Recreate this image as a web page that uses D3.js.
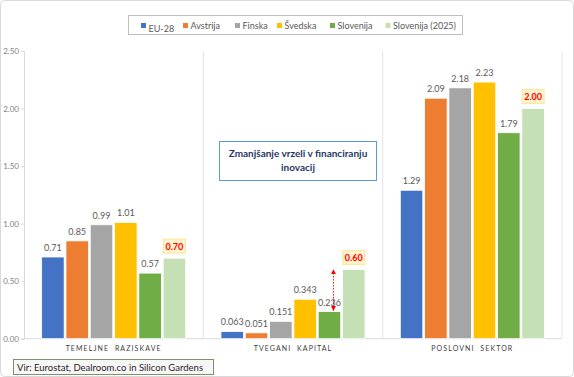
<!DOCTYPE html>
<html><head><meta charset="utf-8">
<script src="https://cdn.jsdelivr.net/npm/d3@7"></script>
<style>body{margin:0;background:#fff}svg{display:block}</style>
</head><body><svg id="c" width="574" height="377"></svg>
<script>
const categories = ["TEMELJNE  RAZISKAVE", "TVEGANI  KAPITAL", "POSLOVNI  SEKTOR"];
const seriesNames = ["EU-28", "Avstrija", "Finska", "Švedska", "Slovenija", "Slovenija (2025)"];
const seriesColors = ["#4472C4", "#ED7D31", "#A5A5A5", "#FFC000", "#70AD47", "#C5E0B4"];
const eu28 = [0.71, 0.063, 1.29];
const avstrija = [0.85, 0.051, 2.09];
const finska = [0.99, 0.151, 2.18];
const svedska = [1.01, 0.343, 2.23];
const slovenija = [0.57, 0.236, 1.79];
const slovenija2025 = [0.70, 0.60, 2.00];
const labelsText = [
  ["0.71","0.063","1.29"],["0.85","0.051","2.09"],["0.99","0.151","2.18"],
  ["1.01","0.343","2.23"],["0.57","0.236","1.79"],["0.70","0.60","2.00"]];
const yTicks = [0, 0.5, 1, 1.5, 2, 2.5];
const series = [eu28, avstrija, finska, svedska, slovenija, slovenija2025];

const FONT = "Lato, 'Open Sans', sans-serif";
const svg = d3.select("#c");
// outer border
svg.append("rect").attr("x",0.5).attr("y",0.5).attr("width",573).attr("height",376).attr("rx",4)
  .attr("fill","#fff").attr("stroke","#D9D9D9");

const x0 = d3.scaleBand().domain(categories).range([24, 562]).padding(0);
const x1 = d3.scaleBand().domain(seriesNames).range([0, x0.bandwidth()]).paddingInner(0.074).paddingOuter(0.726);
const y = d3.scaleLinear().domain([0, 2.5]).range([338.7, 51]);

// y axis
const yAxis = d3.axisLeft(y).tickValues(yTicks).tickFormat(d3.format(".2f")).tickSize(3).tickPadding(2);
const ga = svg.append("g").attr("transform","translate(24,0)").call(yAxis);
ga.select(".domain").attr("stroke","#D9D9D9");
ga.selectAll(".tick line").attr("stroke","#D9D9D9");
ga.selectAll(".tick text").attr("fill","#7F7F7F").style("font-family",FONT).style("font-size","8px");

// baseline and separators
svg.append("line").attr("x1",24).attr("x2",562).attr("y1",y(0)).attr("y2",y(0)).attr("stroke","#D9D9D9");
categories.forEach((c,i)=>{
  const xr = x0(c)+x0.bandwidth();
  svg.append("line").attr("x1",xr).attr("x2",xr).attr("y1",y(2.5)).attr("y2",y(0)).attr("stroke","#E4E4E4");
});

// bars
series.forEach((vals, si)=>{
  categories.forEach((c, ci)=>{
    const bx = x0(c)+x1(seriesNames[si]);
    svg.append("rect").attr("x",bx).attr("y",y(vals[ci])).attr("width",x1.bandwidth())
      .attr("height",y(0)-y(vals[ci])).attr("fill",seriesColors[si]).attr("stroke","#fff").attr("stroke-width",0.8);
  });
});

// labels
series.forEach((vals, si)=>{
  categories.forEach((c, ci)=>{
    const cx = x0(c)+x1(seriesNames[si])+x1.bandwidth()/2;
    const ty = y(vals[ci]) - 6;
    if (si === 5) {
      svg.append("rect").attr("x",cx-11).attr("y",ty-13).attr("width",22).attr("height",14)
        .attr("fill","#FFF2CC").attr("stroke","#FFE699");
      svg.append("text").attr("x",cx).attr("y",ty-2.5).attr("text-anchor","middle")
        .attr("fill","#FF0000").style("font-weight","bold").style("font-family",FONT).style("font-size","9px")
        .text(labelsText[si][ci]);
    } else {
      svg.append("text").attr("x",cx).attr("y",ty).attr("text-anchor","middle")
        .attr("fill","#595959").style("font-family",FONT).style("font-size","9px")
        .text(labelsText[si][ci]);
    }
  });
});

// category labels
categories.forEach(c=>{
  svg.append("text").attr("x",x0(c)+x0.bandwidth()/2).attr("y",351).attr("text-anchor","middle")
    .attr("fill","#404040").style("font-family",FONT).style("font-size","7px").style("letter-spacing","1.1px")
    .style("white-space","pre").attr("xml:space","preserve").text(c);
});

// arrow for Slovenija in TVEGANI KAPITAL
const defs = svg.append("defs");
defs.append("marker").attr("id","ah").attr("viewBox","0 0 10 10").attr("refX",9).attr("refY",5)
  .attr("markerWidth",5).attr("markerHeight",5).attr("orient","auto-start-reverse")
  .append("path").attr("d","M0,0L10,5L0,10z").attr("fill","#FF0000");
const ac = categories[1];
const axp = x0(ac)+x1(seriesNames[4])+x1.bandwidth()/2 + 4;
svg.append("line").attr("x1",axp).attr("x2",axp).attr("y1",y(slovenija[1])-1).attr("y2",y(slovenija2025[1]))
  .attr("stroke","#FF0000").attr("stroke-width",1).attr("stroke-dasharray","1.5,1.5")
  .attr("marker-start","url(#ah)").attr("marker-end","url(#ah)");

// annotation box
svg.append("rect").attr("x",219.5).attr("y",141.5).attr("width",157).attr("height",39)
  .attr("fill","#fff").attr("stroke","#5B9BD5").attr("stroke-width",1);
svg.append("text").attr("x",298).attr("y",157).attr("text-anchor","middle").attr("fill","#1F3864")
  .style("font-weight","bold").style("font-family",FONT).style("font-size","10px").text("Zmanjšanje vrzeli v financiranju");
svg.append("text").attr("x",298).attr("y",171).attr("text-anchor","middle").attr("fill","#1F3864")
  .style("font-weight","bold").style("font-family",FONT).style("font-size","10px").text("inovacij");

// legend
svg.append("rect").attr("x",128.5).attr("y",15.5).attr("width",334).attr("height",19)
  .attr("fill","#fff").attr("stroke","#BFBFBF");
const legX = [141, 183, 235, 277, 330, 385.5];
seriesNames.forEach((n,i)=>{
  svg.append("rect").attr("x",legX[i]).attr("y",23).attr("width",5).attr("height",5).attr("fill",seriesColors[i]);
  svg.append("text").attr("x",legX[i]+7.5).attr("y", i===0 ? 31.5 : 29).attr("fill","#595959")
    .style("font-family",FONT).style("font-size","9px").text(n);
});

// source box
svg.append("rect").attr("x",13.5).attr("y",359.5).attr("width",200).attr("height",15)
  .attr("fill","#F7F7F7").attr("stroke","#7A9466");
svg.append("text").attr("x",17).attr("y",370.5).attr("fill","#262626")
  .style("font-family",FONT).style("font-size","9.5px").text("Vir: Eurostat, Dealroom.co in Silicon Gardens");
</script></body></html>
